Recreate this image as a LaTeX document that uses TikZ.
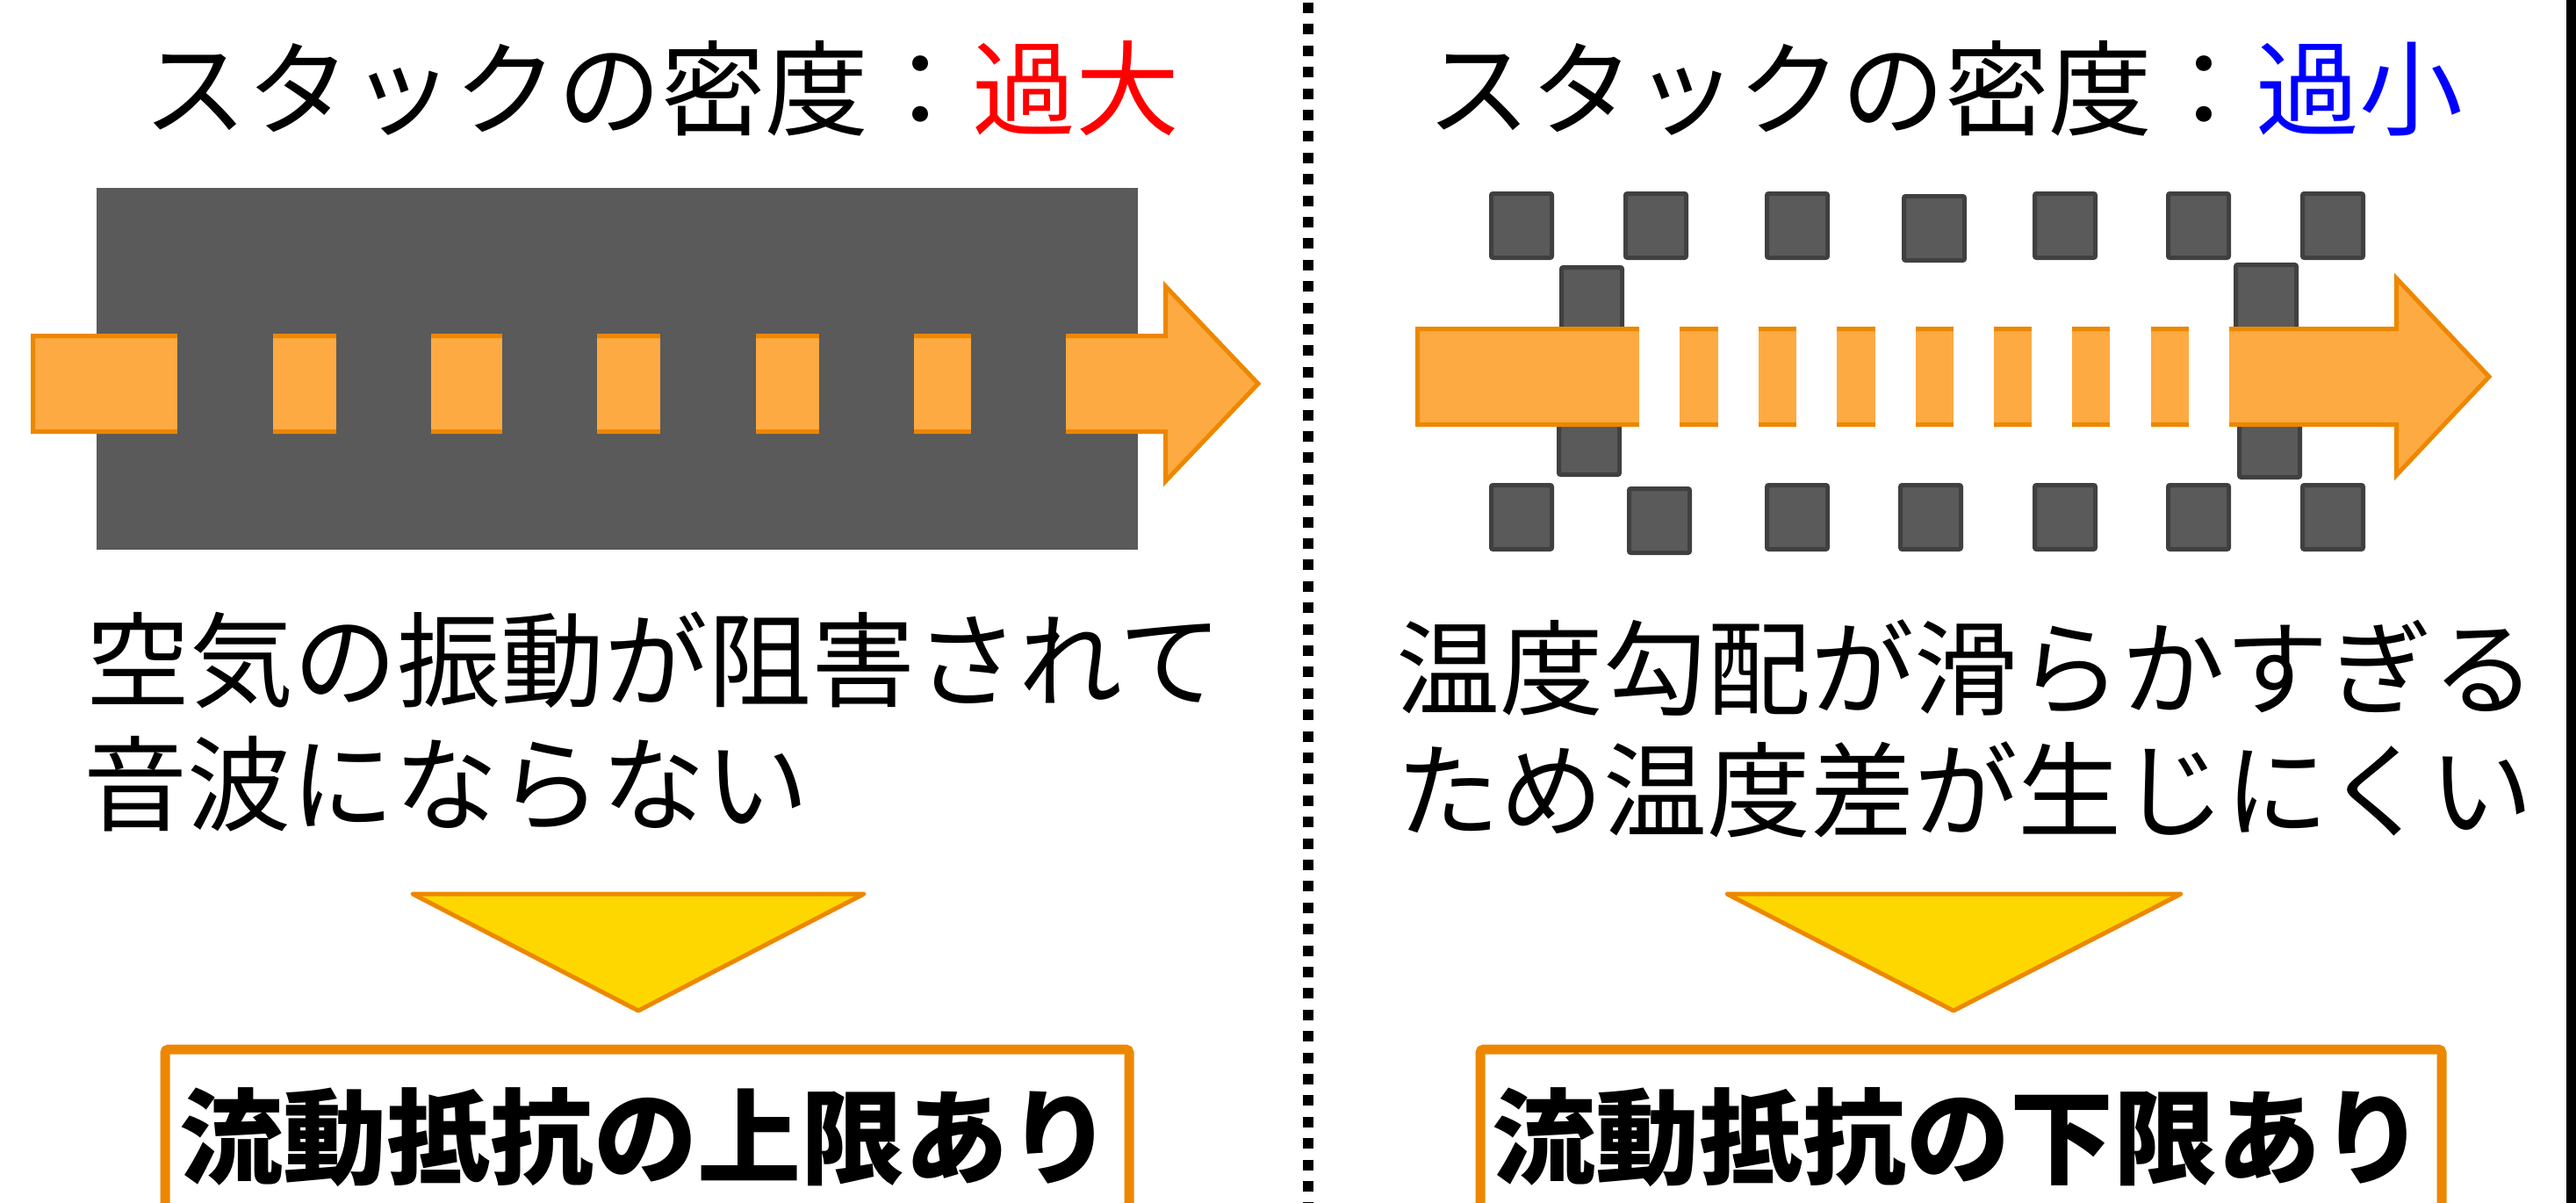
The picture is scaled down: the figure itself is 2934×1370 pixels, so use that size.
\documentclass[tikz,border=0pt]{standalone}
\usepackage{fontspec}
\newfontfamily\jp{Noto Sans CJK JP}
\definecolor{stackgray}{RGB}{90,90,90}
\definecolor{stackedge}{RGB}{64,64,64}
\definecolor{flowfill}{RGB}{253,170,66}
\definecolor{floworange}{RGB}{237,135,0}
\definecolor{trigold}{RGB}{255,215,0}
\definecolor{hotred}{RGB}{255,0,0}
\definecolor{coldblue}{RGB}{0,0,255}
\begin{document}
\begin{tikzpicture}[x=1pt,y=-1pt,
  plate/.style={fill=stackgray,draw=stackedge,line width=5pt,rounded corners=2pt},
  flow/.style={fill=flowfill,draw=floworange,line width=5pt,line join=miter},
  gapdark/.style={fill=stackgray},
  gapwhite/.style={fill=white},
  tri/.style={fill=trigold,draw=floworange,line width=5pt,line join=round},
  resbox/.style={draw=floworange,line width=11pt,rounded corners=4pt},
  txt/.style={font=\jp\fontsize{118}{142}\selectfont,inner sep=0pt,anchor=base west},
  btxt/.style={font=\jp\bfseries\fontsize{118}{142}\selectfont,inner sep=0pt,anchor=base west},
  divider/.style={draw=black,line width=12pt,dash pattern=on 12pt off 12.4pt}
]
\useasboundingbox (0,0) rectangle (2934,1370);
\fill[white] (0,0) rectangle (2934,1370);
% right edge bar
\fill[black] (2923,0) rectangle (2934,1370);
% divider
\coordinate (dtop) at (1490,3);
\coordinate (dbot) at (1490,1370);
\draw[divider] (dtop) -- (dbot);

% ---------- left panel ----------
\node[txt] (titleL) at (163,146) {スタックの密度：\textcolor{hotred}{過大}};
\fill[stackgray] (110,214) rectangle (1296,626);
\draw[flow] (37.5,382.5) -- (1327.5,382.5) -- (1327.5,326) -- (1433,437) -- (1327.5,548) -- (1327.5,491.5) -- (37.5,491.5) -- cycle;
\foreach \a/\b in {202/311,383/491,572/680,752/861,933/1041,1106/1214}
  \fill[gapdark] (\a,376) rectangle (\b,498);
\node[txt] (bodyL1) at (98,796) {空気の振動が阻害されて};
\node[txt] (bodyL2) at (95,937) {音波にならない};
\draw[tri] (470,1018) -- (984,1018) -- (727,1151) -- cycle;
\draw[resbox] (188,1380) -- (188,1195) -- (1286,1195) -- (1286,1380);
\node[btxt] (resL) at (204,1339) {流動抵抗の上限あり};

% ---------- right panel ----------
\node[txt] (titleR) at (1625,146) {スタックの密度：\textcolor{coldblue}{過小}};
\foreach \x/\y in {1696/218,1849/218,2010/218,2166/221,2315/218,2467/218,2620/218,
                   1776/302,2544/299,1773/465,2548/468,
                   1696/550,1853/554,2010/550,2162/550,2315/550,2467/550,2620/550}
  \draw[plate] (\x+2.5,\y+2.5) rectangle ++(69,73);
\draw[flow] (1614.5,374.5) -- (2729.5,374.5) -- (2729.5,317) -- (2835,429) -- (2729.5,541) -- (2729.5,483.5) -- (1614.5,483.5) -- cycle;
\foreach \a/\b in {1867/1913,1957/2003,2046/2092,2136/2182,2225/2271,2314/2360,2403/2450,2493/2539}
  \fill[gapwhite] (\a,369) rectangle (\b,489);
\node[txt] (bodyR1) at (1590,805) {温度勾配が滑らかすぎる};
\node[txt] (bodyR2) at (1590,944) {ため温度差が生じにくい};
\draw[tri] (1967,1018) -- (2484,1018) -- (2225,1151) -- cycle;
\draw[resbox] (1686,1380) -- (1686,1195) -- (2781,1195) -- (2781,1380);
\node[btxt] (resR) at (1699,1339) {流動抵抗の下限あり};
\end{tikzpicture}
\end{document}
